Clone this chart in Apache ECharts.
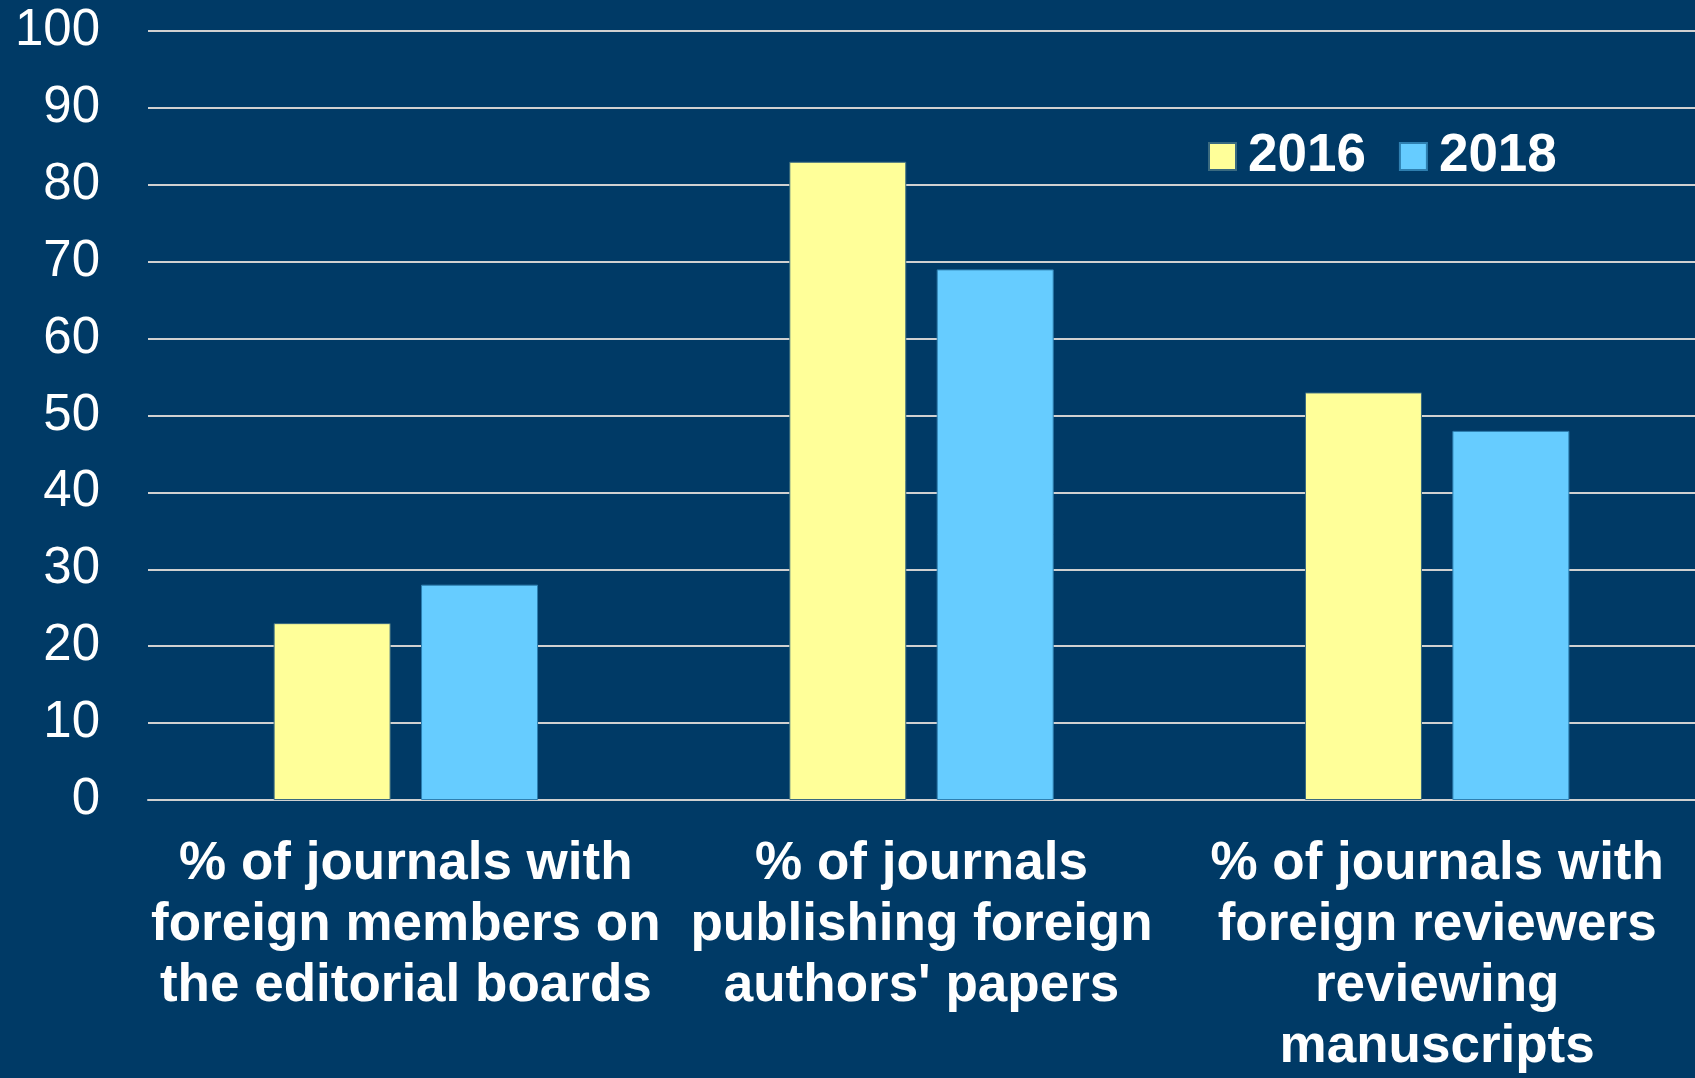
<!DOCTYPE html>
<html>
<head>
<meta charset="utf-8">
<script src="https://cdn.jsdelivr.net/npm/echarts@6/dist/echarts.min.js"></script>
<style>
html,body{margin:0;padding:0;background:#003A66;}
#chart{width:1695px;height:1078px;}
</style>
</head>
<body>
<div id="chart"></div>
<script>
const categories = [
  "% of journals with\nforeign members on\nthe editorial boards",
  "% of journals\npublishing foreign\nauthors' papers",
  "% of journals with\nforeign reviewers\nreviewing\nmanuscripts"
];
const seriesNames = ["2016", "2018"];
const values2016 = [23, 83, 53];
const values2018 = [28, 69, 48];
const yTicks = [0, 100, 10];

const chart = echarts.init(document.getElementById('chart'));
chart.setOption({
  backgroundColor: '#003A66',
  animation: false,
  textStyle: { fontFamily: 'Liberation Sans, Arial, sans-serif' },
  legend: {
    data: seriesNames,
    left: 1203,
    top: 125,
    itemWidth: 27,
    itemHeight: 27,
    itemGap: 33,
    icon: 'rect',
    textStyle: { color: '#FFFFFF', fontSize: 53, fontWeight: 'bold', padding: [4, 0, 0, 7], fontFamily: 'Liberation Sans, Arial, sans-serif' }
  },
  grid: { left: 148, top: 31, width: 1553, height: 772, containLabel: false },
  xAxis: {
    type: 'category',
    data: categories,
    axisLine: { show: true, lineStyle: { color: '#D0D0D0', width: 2 } },
    axisTick: { show: false },
    axisLabel: {
      color: '#FFFFFF', fontSize: 53, fontWeight: 'bold', lineHeight: 61,
      margin: 34, interval: 0, align: 'center',
      fontFamily: 'Liberation Sans, Arial, sans-serif'
    }
  },
  yAxis: {
    type: 'value',
    min: yTicks[0], max: yTicks[1], interval: yTicks[2],
    axisLine: { show: false },
    axisTick: { show: false },
    splitLine: { show: true, lineStyle: { color: '#D0D0D0', width: 2 } },
    axisLabel: { color: '#FFFFFF', fontSize: 51, margin: 48, fontFamily: 'Liberation Sans, Arial, sans-serif' }
  },
  series: [
    {
      name: seriesNames[0], type: 'bar', data: values2016,
      barWidth: 117, barGap: '26%',
      itemStyle: { color: '#FFFF99', borderColor: '#3A6A80', borderWidth: 1 }
    },
    {
      name: seriesNames[1], type: 'bar', data: values2018,
      barWidth: 117,
      itemStyle: { color: '#66CCFF', borderColor: '#2E7FB0', borderWidth: 1 }
    }
  ]
});
</script>
</body>
</html>
